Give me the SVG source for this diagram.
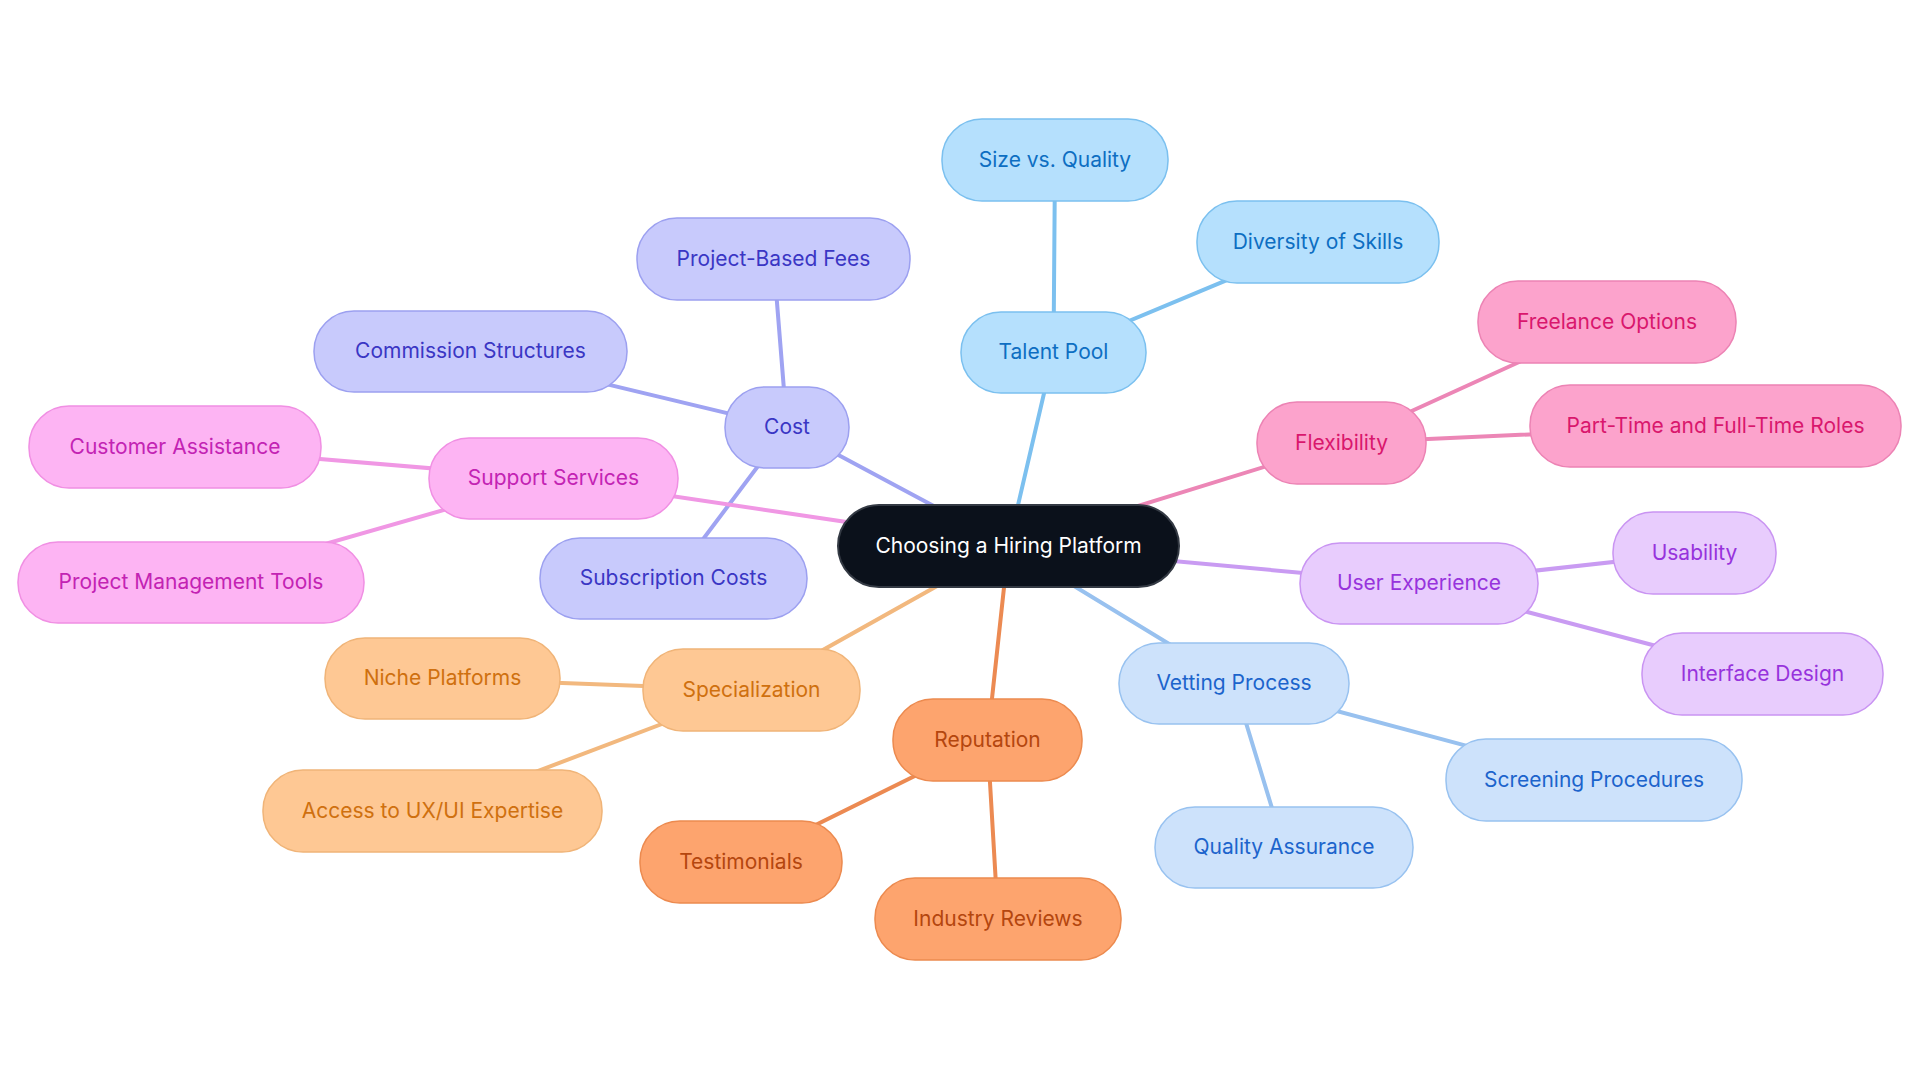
<svg xmlns="http://www.w3.org/2000/svg" width="1920" height="1083" viewBox="0 0 1920 1083">
<style>
text{font-family:Inter,"Noto Sans","Liberation Sans",sans-serif;font-size:21px;text-anchor:middle}
.e{stroke-width:4;fill:none;stroke-linecap:round}
rect{stroke-width:1.5}
.root rect{fill:#0b111b;stroke:#343a44;stroke-width:2}.root text{fill:#ffffff}
.ind rect{fill:#c8cafc;stroke:#9ca0f0}.ind text{fill:#3a36c4}
.sky rect{fill:#b5e0fd;stroke:#7bc0ef}.sky text{fill:#0d6ec2}
.pnk rect{fill:#fca3cc;stroke:#ec83b4}.pnk text{fill:#d9176d}
.fus rect{fill:#fdb4f3;stroke:#f08fe3}.fus text{fill:#c323b3}
.pur rect{fill:#e8ccfd;stroke:#c994f2}.pur text{fill:#9733dc}
.blu rect{fill:#cde2fb;stroke:#98c2f0}.blu text{fill:#1c64cc}
.amb rect{fill:#fec894;stroke:#f0b478}.amb text{fill:#cf700f}
.org rect{fill:#fda46e;stroke:#ec8a4f}.org text{fill:#b4460e}
</style>
<rect width="1920" height="1083" fill="#ffffff"/>
<g id="connectors">
<g class="e" stroke="#9fa3f2">
<line x1="1008.5" y1="546" x2="787" y2="427.5"/>
<line x1="787" y1="427.5" x2="773.5" y2="259"/>
<line x1="787" y1="427.5" x2="470.5" y2="351.5"/>
<line x1="787" y1="427.5" x2="673.5" y2="578.5"/>
</g>
<g class="e" stroke="#7cc0ef">
<line x1="1008.5" y1="546" x2="1053.5" y2="352.5"/>
<line x1="1053.5" y1="352.5" x2="1055" y2="160"/>
<line x1="1053.5" y1="352.5" x2="1318" y2="242"/>
</g>
<g class="e" stroke="#ec86b6">
<line x1="1008.5" y1="546" x2="1341.5" y2="443"/>
<line x1="1341.5" y1="443" x2="1607" y2="322"/>
<line x1="1341.5" y1="443" x2="1715.5" y2="426"/>
</g>
<g class="e" stroke="#f097e4">
<line x1="1008.5" y1="546" x2="553.5" y2="478.5"/>
<line x1="553.5" y1="478.5" x2="175" y2="447"/>
<line x1="553.5" y1="478.5" x2="191" y2="582.5"/>
</g>
<g class="e" stroke="#c99bf2">
<line x1="1008.5" y1="546" x2="1419" y2="583.5"/>
<line x1="1419" y1="583.5" x2="1694.5" y2="553"/>
<line x1="1419" y1="583.5" x2="1762.5" y2="674"/>
</g>
<g class="e" stroke="#98c1ef">
<line x1="1008.5" y1="546" x2="1234" y2="683.5"/>
<line x1="1234" y1="683.5" x2="1594" y2="780"/>
<line x1="1234" y1="683.5" x2="1284" y2="847.5"/>
</g>
<g class="e" stroke="#f2b87e">
<line x1="1008.5" y1="546" x2="751.5" y2="690"/>
<line x1="751.5" y1="690" x2="442.5" y2="678.5"/>
<line x1="751.5" y1="690" x2="432.5" y2="811"/>
</g>
<g class="e" stroke="#ec8a52">
<line x1="1008.5" y1="546" x2="987.5" y2="740"/>
<line x1="987.5" y1="740" x2="741" y2="862"/>
<line x1="987.5" y1="740" x2="998" y2="919"/>
</g>
</g>
<g id="n-root" class="root"><rect x="838" y="505" width="341" height="82" rx="41"/><text x="1008.5" y="552.5">Choosing a Hiring Platform</text></g>
<g id="n-cost" class="ind"><rect x="725" y="387" width="124" height="81" rx="40"/><text x="787" y="434">Cost</text></g>
<g id="n-project-fees" class="ind"><rect x="637" y="218" width="273" height="82" rx="40"/><text x="773.5" y="265.5">Project-Based Fees</text></g>
<g id="n-commission" class="ind"><rect x="314" y="311" width="313" height="81" rx="40"/><text x="470.5" y="358">Commission Structures</text></g>
<g id="n-subscription" class="ind"><rect x="540" y="538" width="267" height="81" rx="40"/><text x="673.5" y="585">Subscription Costs</text></g>
<g id="n-talent" class="sky"><rect x="961" y="312" width="185" height="81" rx="40"/><text x="1053.5" y="359">Talent Pool</text></g>
<g id="n-size" class="sky"><rect x="942" y="119" width="226" height="82" rx="40"/><text x="1055" y="166.5">Size vs. Quality</text></g>
<g id="n-diversity" class="sky"><rect x="1197" y="201" width="242" height="82" rx="40"/><text x="1318" y="248.5">Diversity of Skills</text></g>
<g id="n-flex" class="pnk"><rect x="1257" y="402" width="169" height="82" rx="40"/><text x="1341.5" y="449.5">Flexibility</text></g>
<g id="n-freelance" class="pnk"><rect x="1478" y="281" width="258" height="82" rx="40"/><text x="1607" y="328.5">Freelance Options</text></g>
<g id="n-parttime" class="pnk"><rect x="1530" y="385" width="371" height="82" rx="40"/><text x="1715.5" y="432.5">Part-Time and Full-Time Roles</text></g>
<g id="n-support" class="fus"><rect x="429" y="438" width="249" height="81" rx="40"/><text x="553.5" y="485">Support Services</text></g>
<g id="n-customer" class="fus"><rect x="29" y="406" width="292" height="82" rx="40"/><text x="175" y="453.5">Customer Assistance</text></g>
<g id="n-pmtools" class="fus"><rect x="18" y="542" width="346" height="81" rx="40"/><text x="191" y="589">Project Management Tools</text></g>
<g id="n-ux" class="pur"><rect x="1300" y="543" width="238" height="81" rx="40"/><text x="1419" y="590">User Experience</text></g>
<g id="n-usability" class="pur"><rect x="1613" y="512" width="163" height="82" rx="40"/><text x="1694.5" y="559.5">Usability</text></g>
<g id="n-interface" class="pur"><rect x="1642" y="633" width="241" height="82" rx="40"/><text x="1762.5" y="680.5">Interface Design</text></g>
<g id="n-vetting" class="blu"><rect x="1119" y="643" width="230" height="81" rx="40"/><text x="1234" y="690">Vetting Process</text></g>
<g id="n-screening" class="blu"><rect x="1446" y="739" width="296" height="82" rx="40"/><text x="1594" y="786.5">Screening Procedures</text></g>
<g id="n-quality" class="blu"><rect x="1155" y="807" width="258" height="81" rx="40"/><text x="1284" y="854">Quality Assurance</text></g>
<g id="n-special" class="amb"><rect x="643" y="649" width="217" height="82" rx="40"/><text x="751.5" y="696.5">Specialization</text></g>
<g id="n-niche" class="amb"><rect x="325" y="638" width="235" height="81" rx="40"/><text x="442.5" y="685">Niche Platforms</text></g>
<g id="n-uxui" class="amb"><rect x="263" y="770" width="339" height="82" rx="40"/><text x="432.5" y="817.5">Access to UX/UI Expertise</text></g>
<g id="n-reputation" class="org"><rect x="893" y="699" width="189" height="82" rx="40"/><text x="987.5" y="746.5">Reputation</text></g>
<g id="n-testimonials" class="org"><rect x="640" y="821" width="202" height="82" rx="40"/><text x="741" y="868.5">Testimonials</text></g>
<g id="n-reviews" class="org"><rect x="875" y="878" width="246" height="82" rx="40"/><text x="998" y="925.5">Industry Reviews</text></g>
</svg>
